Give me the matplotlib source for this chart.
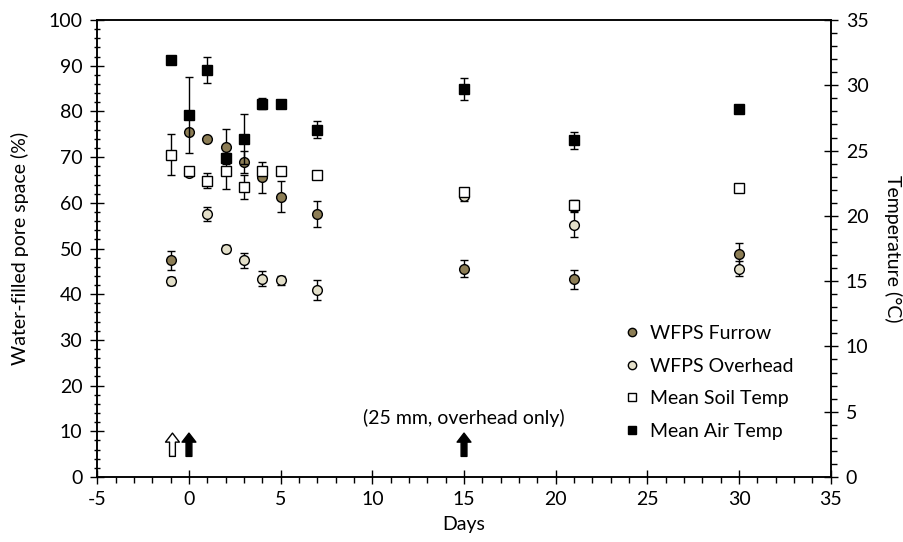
import numpy as np
import matplotlib.pyplot as plt
from matplotlib.lines import Line2D
from matplotlib.ticker import MultipleLocator

plt.rcParams['font.family'] = ['Lato', 'DejaVu Sans']
plt.rcParams['font.size'] = 14
plt.rcParams['axes.unicode_minus'] = False

# data
days = [-1, 0, 1, 2, 3, 4, 5, 7, 15, 21, 30]

wfps_furrow = [47.4, 75.6, 74.0, 72.3, 69.0, 65.6, 61.3, 57.5, 45.6, 43.3, 48.7]
wfps_furrow_err = [2.1, 0.5, 0.5, 3.8, 2.4, 3.4, 3.4, 2.9, 1.8, 2.1, 2.5]

wfps_overhead = [42.9, 66.5, 57.6, 50.0, 47.4, 43.4, 43.0, 40.9, 61.4, 55.2, 45.6]
wfps_overhead_err = [0.9, 0.5, 1.5, 0.8, 1.6, 1.6, 0.9, 2.1, 1.0, 2.7, 1.7]

soil_temp = [24.7, 23.4, 22.7, 23.45, 22.2, 23.4, 23.4, 23.1, 21.8, 20.8, 22.1]
soil_temp_err = [1.6, 0.35, 0.6, 1.4, 0.9, 0.3, 0.2, 0.3, 0.2, 0.4, 0.15]

air_temp = [31.95, 27.7, 31.2, 24.4, 25.9, 28.6, 28.6, 26.6, 29.7, 25.8, 28.2]
air_temp_err = [0.1, 2.9, 1.0, 0.3, 1.9, 0.45, 0.1, 0.65, 0.85, 0.64, 0.1]

furrow_col = '#8C7D55'
overhead_col = '#E3DFC9'

fig = plt.figure(figsize=(9.04, 5.42), dpi=100)
ax = fig.add_axes([0.1076, 0.120, 0.8114, 0.843])
ax2 = ax.twinx()

eb = dict(ls='none', ecolor='black', elinewidth=1, capsize=3, capthick=1,
          mec='black', mew=1)
ax.errorbar(days, wfps_furrow, yerr=wfps_furrow_err, fmt='o', ms=7, mfc=furrow_col, **eb)
ax.errorbar(days, wfps_overhead, yerr=wfps_overhead_err, fmt='o', ms=7, mfc=overhead_col, **eb)
ax2.errorbar(days, soil_temp, yerr=soil_temp_err, fmt='s', ms=7, mfc='white', **eb)
ax2.errorbar(days, air_temp, yerr=air_temp_err, fmt='s', ms=7, mfc='black', **eb)

# irrigation arrows
arrow_style = 'simple,head_width=1.0,head_length=0.65,tail_width=0.42'
for x, fc in [(-0.9, 'white'), (0, 'black'), (15, 'black')]:
    ax.annotate('', xy=(x, 9.6), xytext=(x, 4.5),
                arrowprops=dict(arrowstyle=arrow_style, fc=fc, ec='black', lw=1,
                                shrinkA=0, shrinkB=0, mutation_scale=10))
ax.text(15, 12.9, '(25 mm, overhead only)', ha='center', va='center')

ax.set_xlim(-5, 35)
ax.set_ylim(0, 100)
ax2.set_ylim(0, 35)
ax.xaxis.set_major_locator(MultipleLocator(5))
ax.xaxis.set_minor_locator(MultipleLocator(1))
ax.yaxis.set_major_locator(MultipleLocator(10))
ax.yaxis.set_minor_locator(MultipleLocator(2))
ax2.yaxis.set_major_locator(MultipleLocator(5))
ax2.yaxis.set_minor_locator(MultipleLocator(1))

ax.tick_params(axis='x', which='major', direction='inout', length=9.5, width=1, pad=5)
ax.tick_params(axis='x', which='minor', direction='out', length=4.5, width=1)
ax.tick_params(axis='y', which='major', direction='inout', length=9.5, width=1, pad=6)
ax.tick_params(axis='y', which='minor', direction='inout', length=4, width=1)
ax2.tick_params(axis='y', which='major', direction='inout', length=9.5, width=1, pad=6)
ax2.tick_params(axis='y', which='minor', direction='out', length=4.5, width=1)
for a in (ax, ax2):
    for s in a.spines.values():
        s.set_linewidth(1.1)

ax.set_xlabel('Days', labelpad=6)
ax.set_ylabel('Water-filled pore space (%)', labelpad=14)
ax2.set_ylabel('Temperature (°C)', rotation=270, va='bottom', labelpad=11)

handles = [
    Line2D([], [], ls='none', marker='o', ms=6, mfc=furrow_col, mec='black'),
    Line2D([], [], ls='none', marker='o', ms=6, mfc=overhead_col, mec='black'),
    Line2D([], [], ls='none', marker='s', ms=6, mfc='white', mec='black'),
    Line2D([], [], ls='none', marker='s', ms=6, mfc='black', mec='black'),
]
labels = ['WFPS Furrow', 'WFPS Overhead', 'Mean Soil Temp', 'Mean Air Temp']
ax2.legend(handles, labels, frameon=False, loc='center left',
           bbox_to_anchor=(0.716, 0.207), borderpad=0, borderaxespad=0,
           handlelength=1, handletextpad=0.4, labelspacing=0.8)

fig.savefig('out.png', dpi=100)
